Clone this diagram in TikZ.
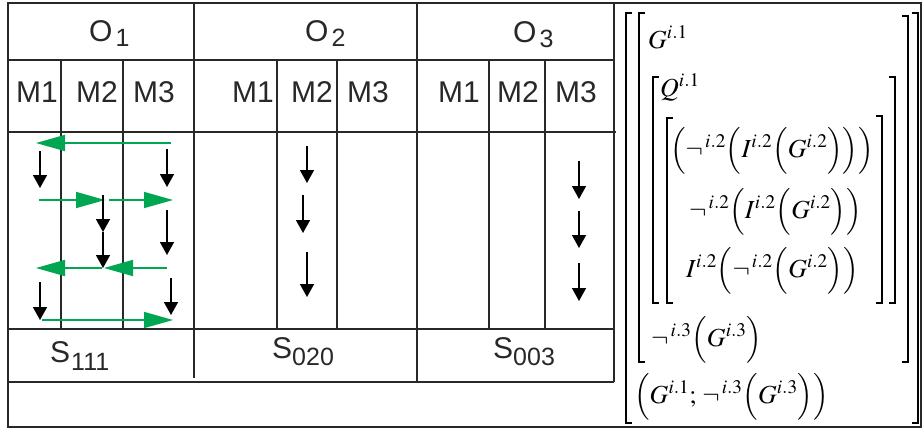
\documentclass[tikz,border=0pt]{standalone}
\usepackage{amsmath}
\usepackage{mathptmx}
\usepackage[no-math]{fontspec}
\newfontfamily\labfont{Liberation Sans}
\usetikzlibrary{arrows.meta}
\definecolor{arrgreen}{RGB}{0,166,81}
\definecolor{gridc}{RGB}{40,40,40}
\tikzset{
  grid/.style={line width=1.2pt, draw=gridc},
  frame/.style={line width=2.4pt, draw=gridc},
  lab/.style={anchor=base west, inner sep=0pt, font=\labfont\fontsize{30}{34}\selectfont, text=gridc},
  mth/.style={anchor=base west, inner sep=0pt, font=\fontsize{26}{30}\selectfont},
  garrow/.style={draw=arrgreen, line width=1.6pt, -{Triangle[length=29pt,width=16pt]}, arrgreen},
  barrow/.style={draw=black, line width=1.5pt, -{Triangle[length=13pt,width=14pt]}},
  brk/.style={line width=2.2pt, line cap=butt}
}
\newcommand{\sbs}[2]{\raisebox{-#1}{\fontsize{25}{25}\selectfont #2}}
\begin{document}
\begin{tikzpicture}[x=1pt,y=-1pt]
\useasboundingbox (0,0) rectangle (923,429);
% outer frame
\draw[frame] (8,3) rectangle (921,427);
% table grid
\draw[grid] (8,60) -- (614,60);
\draw[grid] (8,132) -- (616,132);
\draw[grid] (8,329) -- (614,329);
\draw[grid] (8,382) -- (614,382);
\draw[grid] (614,3) -- (614,382);
\draw[grid] (194,3) -- (194,378);
\draw[grid] (417,3) -- (417,382);
\foreach \x in {61,123,277,337,489,545} \draw[grid] (\x,60) -- (\x,329);
% labels
\node[lab] (o1) at (89,41) {O\kern3pt\sbs{5pt}{1}};
\node[lab] (o2) at (305,41) {O\kern3pt\sbs{5pt}{2}};
\node[lab] (o3) at (513,42) {O\kern3pt\sbs{5pt}{3}};
\node[lab] (m11) at (16,102) {M1};
\node[lab] (m12) at (76,102) {M2};
\node[lab] (m13) at (133,102) {M3};
\node[lab] (m21) at (232,102) {M1};
\node[lab] (m22) at (291,102) {M2};
\node[lab] (m23) at (347,102) {M3};
\node[lab] (m31) at (438,102) {M1};
\node[lab] (m32) at (497,102) {M2};
\node[lab] (m33) at (555,102) {M3};
\node[lab] (s1) at (50,362) {S\kern1pt\sbs{8pt}{111}};
\node[lab] (s2) at (272,358) {S\kern0pt\sbs{7pt}{020}};
\node[lab] (s3) at (493,358) {S\kern0pt\sbs{7pt}{003}};
% green arrows
\coordinate (g1a) at (171,143); \coordinate (g1b) at (36,143);
\coordinate (g2a) at (39,200); \coordinate (g2b) at (105,200);
\coordinate (g3a) at (109,200); \coordinate (g3b) at (173,200);
\coordinate (g4a) at (167,268); \coordinate (g4b) at (104,268);
\coordinate (g5a) at (102,268); \coordinate (g5b) at (36,268);
\coordinate (g6a) at (42,320); \coordinate (g6b) at (173,320);
\foreach \g in {1,...,6} \draw[garrow] (g\g a) -- (g\g b);
% black arrows
\coordinate (b1a) at (40,151); \coordinate (b1b) at (40,188);
\coordinate (b2a) at (167,149); \coordinate (b2b) at (167,187);
\coordinate (b3a) at (103,195); \coordinate (b3b) at (103,232);
\coordinate (b4a) at (103,232); \coordinate (b4b) at (103,268);
\coordinate (b5a) at (167,210); \coordinate (b5b) at (167,255);
\coordinate (b6a) at (40,282); \coordinate (b6b) at (40,320);
\coordinate (b7a) at (171,278); \coordinate (b7b) at (171,315);
\coordinate (b8a) at (307,146); \coordinate (b8b) at (307,183);
\coordinate (b9a) at (303,195); \coordinate (b9b) at (303,233);
\coordinate (b10a) at (307,252); \coordinate (b10b) at (307,297);
\coordinate (b11a) at (579,161); \coordinate (b11b) at (579,199);
\coordinate (b12a) at (579,211); \coordinate (b12b) at (579,248);
\coordinate (b13a) at (579,263); \coordinate (b13b) at (579,301);
\foreach \b in {1,...,13} \draw[barrow] (b\b a) -- (b\b b);
% matrix brackets
\draw[brk] (632,13) -- (626,13) -- (626,423) -- (632,423);
\draw[brk] (912,13) -- (918,13) -- (918,423) -- (912,423);
\draw[brk] (645,13) -- (639,13) -- (639,362) -- (645,362);
\draw[brk] (902,16) -- (908,16) -- (908,362) -- (902,362);
\draw[brk] (659,77) -- (653,77) -- (653,303) -- (659,303);
\draw[brk] (889,77) -- (895,77) -- (895,303) -- (889,303);
\draw[brk] (673,118) -- (667,118) -- (667,303) -- (673,303);
\draw[brk] (876,116) -- (882,116) -- (882,303) -- (876,303);
% matrix entries
\node[mth] (r0) at (648,48) {$G^{i.1}$};
\node[mth] (r1) at (660,96) {$Q^{i.1}$};
\node[mth] (r2) at (670,157) {$\Big(\neg^{\,i.2}\Big(I^{i.2}\Big(G^{i.2}\Big)\Big)\Big)$};
\node[mth] (r3) at (689,218) {$\neg^{\,i.2}\Big(I^{i.2}\Big(G^{i.2}\Big)\Big)$};
\node[mth] (r4) at (686,277) {$I^{i.2}\Big(\neg^{\,i.2}\Big(G^{i.2}\Big)\Big)$};
\node[mth] (r5) at (651,346) {$\neg^{\,i.3}\Big(G^{i.3}\Big)$};
\node[mth] (r6) at (634,403) {$\Big(G^{i.1};\,\neg^{\,i.3}\Big(G^{i.3}\Big)\Big)$};
\end{tikzpicture}
\end{document}
